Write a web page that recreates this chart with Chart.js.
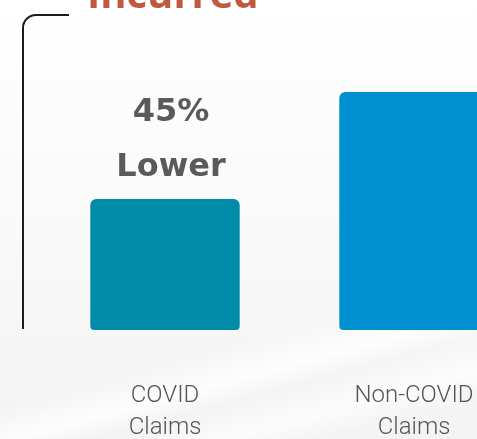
<!DOCTYPE html>
<html>
<head>
<meta charset="utf-8">
<script src="https://cdn.jsdelivr.net/npm/chart.js@4/dist/chart.umd.min.js"></script>
<style>
  html, body { margin: 0; padding: 0; width: 477px; height: 439px; overflow: hidden; }
  body {
    background:
      linear-gradient(165deg, rgba(255,255,255,0) 72%, rgba(255,255,255,0.8) 78%, rgba(255,255,255,0) 82%, rgba(255,255,255,0.7) 88%, rgba(255,255,255,0) 93%),
      linear-gradient(180deg, #ffffff 0%, #fafafa 45%, #f3f3f3 100%);
  }
  #wrap { position: absolute; left: 0; top: 0; width: 560px; height: 439px; }
  canvas { display: block; }
</style>
</head>
<body>
<div id="wrap"><canvas id="chart" width="560" height="439"></canvas></div>
<script>
// Claim cost comparison: COVID vs non-COVID claims
const titleText = 'Incurred';
const categories = [['COVID', 'Claims'], ['Non-COVID', 'Claims']];
const claimCost = [55, 100];
const barColors = ['#008ba8', '#0090d0'];
const callouts = [['45%', 'Lower'], []];

// Section heading drawn at the top edge
const headingPlugin = {
  id: 'heading',
  afterDraw(chart) {
    const ctx = chart.ctx;
    ctx.save();
    ctx.font = '700 40px "Open Sans"';
    ctx.fillStyle = '#c05a3e';
    ctx.textAlign = 'left';
    ctx.textBaseline = 'alphabetic';
    ctx.fillText(titleText, 87, 8);
    ctx.restore();
  }
};

// Rounded bracket framing the bars on the left
const bracketPlugin = {
  id: 'bracket',
  beforeDatasetsDraw(chart) {
    const ctx = chart.ctx;
    const bottom = chart.chartArea.bottom - 1;
    const x = 23, top = 15, r = 13, right = 69;
    ctx.save();
    ctx.strokeStyle = '#1c1c1c';
    ctx.lineWidth = 2;
    ctx.beginPath();
    ctx.moveTo(x, bottom);
    ctx.lineTo(x, top + r);
    ctx.arcTo(x, top, x + r, top, r);
    ctx.lineTo(right, top);
    ctx.stroke();
    ctx.restore();
  }
};

// Callout text stacked above each bar
const calloutPlugin = {
  id: 'callouts',
  afterDatasetsDraw(chart) {
    const ctx = chart.ctx;
    const meta = chart.getDatasetMeta(0);
    ctx.save();
    ctx.font = '700 32px "DejaVu Sans"';
    ctx.fillStyle = '#5a5a5a';
    ctx.textAlign = 'center';
    ctx.textBaseline = 'middle';
    meta.data.forEach((bar, i) => {
      const lines = callouts[i] || [];
      lines.slice().reverse().forEach((line, j) => {
        ctx.fillText(line, bar.x + 6, bar.y - 31 - j * 55);
      });
    });
    ctx.restore();
  }
};

new Chart(document.getElementById('chart'), {
  type: 'bar',
  data: {
    labels: categories,
    datasets: [{
      data: claimCost,
      backgroundColor: barColors,
      borderRadius: { topLeft: 6, topRight: 6, bottomLeft: 4, bottomRight: 4 },
      borderSkipped: false,
      barPercentage: 0.6,
      categoryPercentage: 1
    }]
  },
  options: {
    responsive: false,
    animation: false,
    devicePixelRatio: 1,
    layout: { padding: { top: 92, left: 40.5, right: 21.5, bottom: 0 } },
    plugins: {
      legend: { display: false },
      tooltip: { enabled: false },
      title: { display: false }
    },
    scales: {
      x: {
        grid: { display: false, drawTicks: false },
        border: { display: false },
        ticks: {
          padding: 50,
          color: '#555555',
          font: { family: 'Roboto', weight: '300', size: 24, lineHeight: '32px' }
        },
        afterFit(scale) { scale.height = 109; }
      },
      y: {
        display: false,
        min: 0,
        max: 100
      }
    }
  },
  plugins: [bracketPlugin, calloutPlugin, headingPlugin]
});
</script>
</body>
</html>
